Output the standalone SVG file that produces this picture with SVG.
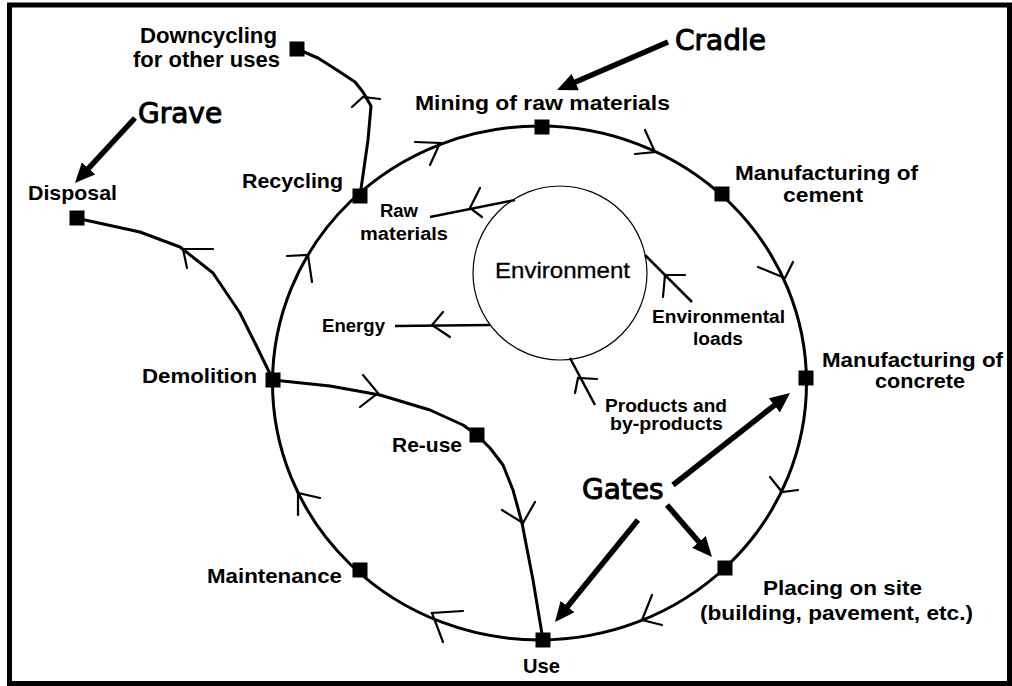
<svg xmlns="http://www.w3.org/2000/svg" width="1012" height="686" viewBox="0 0 1012 686">
<defs>
<style>
.lbl{font-family:"Liberation Sans",Arial,sans-serif;font-weight:bold;font-size:21px;fill:#000}
.sm{font-size:18px}
.big{font-family:"DejaVu Sans",sans-serif;font-weight:normal;font-size:28px;fill:#000;stroke:#000;stroke-width:1}
.env{font-family:"Liberation Sans",Arial,sans-serif;font-weight:normal;font-size:22px;fill:#000;stroke:#000;stroke-width:0.3}
.ring{fill:none;stroke:#000;stroke-width:3}
.flow{fill:none;stroke:#000;stroke-width:3;stroke-linejoin:round;stroke-linecap:round}
.thin{fill:none;stroke:#000;stroke-width:2.5}
.head{fill:none;stroke:#000;stroke-width:2.2;stroke-linecap:round;stroke-linejoin:miter}
.fat{fill:none;stroke:#000;stroke-width:5.5;marker-end:url(#fathead)}
.node{fill:#000}
</style>
<marker id="fathead" markerUnits="userSpaceOnUse" markerWidth="22" markerHeight="20" refX="13" refY="9" orient="auto" viewBox="0 0 22 20">
<path d="M0,0 L20,9 L0,18 Z" fill="#000"/>
</marker>
</defs>
<rect x="0" y="0" width="1012" height="686" fill="#fff"/>
<rect id="frame" x="9.5" y="5" width="1000" height="678.5" fill="none" stroke="#000" stroke-width="5"/>

<g id="connectors">
<ellipse class="ring" cx="539.5" cy="383" rx="267" ry="257"/>
<polyline class="flow" points="297,49 318,58 340,72 355,82 363,92 371,106 368,140 360,196"/>
<polyline class="flow" points="77,218 85,220 140,232 180,247 213,273 240,313 257,347 273,380"/>
<polyline class="flow" points="273,380 330,386 380,395 430,410 463,425 477,435"/>
<polyline class="flow" points="477,435 490,448 503,465 513,490 522,523 533,580 543,640"/>
<line class="thin" x1="515" y1="200" x2="430" y2="217"/>
<line class="thin" x1="490" y1="325" x2="395" y2="326"/>
<line class="thin" x1="692" y1="302" x2="645" y2="255"/>
<line class="thin" x1="595" y1="405" x2="570" y2="358"/>
<path class="head" d="M415,142 L440,143 L430,165"/>
<path class="head" d="M645,130 L655,152 L635,154"/>
<path class="head" d="M758,267 L785,278 L793,262"/>
<path class="head" d="M770,477 L782,492 L798,490"/>
<path class="head" d="M652,595 L642,620 L662,625"/>
<path class="head" d="M463,611 L432,613 L443,642"/>
<path class="head" d="M320,498 L298,493 L298,515"/>
<path class="head" d="M287,256 L308,255 L312,282"/>
<path class="head" d="M352,107 L363,97 L380,99"/>
<path class="head" d="M213,249 L183,249 L187,268"/>
<path class="head" d="M363,375 L378,393 L360,407"/>
<path class="head" d="M502,510 L523,523 L535,502"/>
<path class="head" d="M480,188 L470,208 L482,217"/>
<path class="head" d="M443,312 L432,325 L450,337"/>
<path class="head" d="M685,275 L665,275 L663,297"/>
<path class="head" d="M597,379 L578,378 L575,393"/>
<line class="fat" x1="668" y1="42" x2="563.4" y2="87.2"/>
<line class="fat" x1="135" y1="118" x2="79.7" y2="177.9"/>
<line class="fat" x1="673" y1="485" x2="784.5" y2="397.3"/>
<line class="fat" x1="667" y1="505" x2="707.4" y2="551.7"/>
<line class="fat" x1="638" y1="520" x2="559.4" y2="616.6"/>
</g>

<g id="environment">
<circle cx="560" cy="273" r="87" fill="none" stroke="#000" stroke-width="1.2"/>
<text class="env" x="495" y="278" textLength="135" lengthAdjust="spacingAndGlyphs">Environment</text>
</g>
<g id="mining">
<rect class="node" x="534.5" y="119.5" width="15" height="15"/>
<text class="lbl" style="font-size:20px" x="415" y="110" textLength="255" lengthAdjust="spacingAndGlyphs">Mining of raw materials</text>
</g>
<g id="cement">
<rect class="node" x="714.5" y="186.5" width="15" height="15"/>
<text class="lbl" x="735" y="180" textLength="183" lengthAdjust="spacingAndGlyphs">Manufacturing of</text>
<text class="lbl" x="783" y="202" textLength="80" lengthAdjust="spacingAndGlyphs">cement</text>
</g>
<g id="concrete">
<rect class="node" x="798.5" y="370.5" width="15" height="15"/>
<text class="lbl" x="822" y="367" textLength="181" lengthAdjust="spacingAndGlyphs">Manufacturing of</text>
<text class="lbl" x="875" y="388" textLength="90" lengthAdjust="spacingAndGlyphs">concrete</text>
</g>
<g id="placing">
<rect class="node" x="717.5" y="560.5" width="15" height="15"/>
<text class="lbl" x="763" y="595" textLength="159" lengthAdjust="spacingAndGlyphs">Placing on site</text>
<text class="lbl" x="700" y="620" textLength="273" lengthAdjust="spacingAndGlyphs">(building, pavement, etc.)</text>
</g>
<g id="use">
<rect class="node" x="535.5" y="632.5" width="15" height="15"/>
<text class="lbl" x="523" y="673" textLength="37" lengthAdjust="spacingAndGlyphs">Use</text>
</g>
<g id="maintenance">
<rect class="node" x="352.5" y="562.5" width="15" height="15"/>
<text class="lbl" x="207" y="583" textLength="135" lengthAdjust="spacingAndGlyphs">Maintenance</text>
</g>
<g id="demolition">
<rect class="node" x="265.5" y="372.5" width="15" height="15"/>
<text class="lbl" x="142" y="383" textLength="115" lengthAdjust="spacingAndGlyphs">Demolition</text>
</g>
<g id="recycling">
<rect class="node" x="352.5" y="188.5" width="15" height="15"/>
<text class="lbl" x="242" y="188" textLength="101" lengthAdjust="spacingAndGlyphs">Recycling</text>
</g>
<g id="reuse">
<rect class="node" x="469.5" y="427.5" width="15" height="15"/>
<text class="lbl" x="392" y="452" textLength="70" lengthAdjust="spacingAndGlyphs">Re-use</text>
</g>
<g id="disposal">
<rect class="node" x="69.5" y="210.5" width="15" height="15"/>
<text class="lbl" x="28" y="200" textLength="89" lengthAdjust="spacingAndGlyphs">Disposal</text>
</g>
<g id="downcycling">
<rect class="node" x="289.5" y="41.5" width="15" height="15"/>
<text class="lbl" style="font-size:22px" x="140" y="43" textLength="137" lengthAdjust="spacingAndGlyphs">Downcycling</text>
<text class="lbl" style="font-size:22px" x="133" y="67" textLength="147" lengthAdjust="spacingAndGlyphs">for other uses</text>
</g>
<g id="raw-materials">
<text class="lbl sm" x="380" y="217" textLength="38" lengthAdjust="spacingAndGlyphs">Raw</text>
<text class="lbl sm" x="360" y="240" textLength="88" lengthAdjust="spacingAndGlyphs">materials</text>
</g>
<g id="energy">
<text class="lbl" style="font-size:19px" x="322" y="332" textLength="63" lengthAdjust="spacingAndGlyphs">Energy</text>
</g>
<g id="env-loads">
<text class="lbl sm" x="652" y="323" textLength="133" lengthAdjust="spacingAndGlyphs">Environmental</text>
<text class="lbl sm" x="693" y="345" textLength="50" lengthAdjust="spacingAndGlyphs">loads</text>
</g>
<g id="products">
<text class="lbl sm" x="605" y="412" textLength="122" lengthAdjust="spacingAndGlyphs">Products and</text>
<text class="lbl sm" x="610" y="430" textLength="113" lengthAdjust="spacingAndGlyphs">by-products</text>
</g>
<g id="cradle">
<text class="big" x="675" y="50">Cradle</text>
</g>
<g id="grave">
<text class="big" x="138" y="123">Grave</text>
</g>
<g id="gates">
<text class="big" x="582" y="499">Gates</text>
</g>
</svg>
